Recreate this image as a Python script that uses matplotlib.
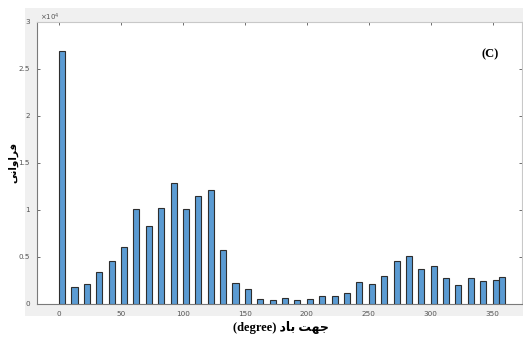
import matplotlib
matplotlib.use("Agg")
import matplotlib.pyplot as plt
from matplotlib.patches import Rectangle

# Wind direction bins (degrees) and observation counts
directions = [2.5, 12.5, 22.5, 32.5, 42.5, 52.5, 62.5, 72.5, 82.5, 92.5,
              102.5, 112.5, 122.5, 132.5, 142.5, 152.5, 162.5, 172.5, 182.5, 192.5,
              202.5, 212.5, 222.5, 232.5, 242.5, 252.5, 262.5, 272.5, 282.5, 292.5,
              302.5, 312.5, 322.5, 332.5, 342.5, 352.5, 358.0]
counts = [26900, 1740, 2060, 3330, 4500, 5990, 10040, 8230, 10210, 12840,
          10040, 11450, 12160, 5740, 2160, 1560, 530, 390, 600, 390,
          530, 780, 780, 1100, 2300, 2130, 2980, 4570, 5040, 3720,
          4040, 2730, 1950, 2730, 2450, 2550, 2840]

x_ticks = [0, 50, 100, 150, 200, 250, 300, 350]
y_ticks = [0, 5000, 10000, 15000, 20000, 25000, 30000]
y_tick_labels = ["0", "0.5", "1", "1.5", "2", "2.5", "3"]

# Persian labels written in visual order with presentation forms
x_label = "(degree) \uFEA9\uFE8E\uFE91 \uFE96\uFEEC\uFE9F"
y_label = "\uFEF0\uFEE7\uFE8D\uFEED\uFE8D\uFEAE\uFED3"
panel_tag = "(C)"

W, H = 523, 338
fig = plt.figure(figsize=(W / 100, H / 100), dpi=100)
fig.patch.set_facecolor("white")

# light grey figure panel behind the axes
fig.patches.append(Rectangle((25 / W, 22 / H), 498 / W, 308 / H,
                             transform=fig.transFigure, facecolor="#f0f0f0",
                             edgecolor="none", zorder=-5))

ax = fig.add_axes([37 / W, 34.3 / H, 485 / W, 281.7 / H], zorder=2)
ax.set_facecolor("white")

ax.bar(directions, counts, width=4.9, color="#5b9bd3", edgecolor="#2e2e2e",
       linewidth=0.8, zorder=3)

ax.set_xlim(-17.8, 373.8)
ax.set_ylim(0, 30000)
ax.set_xticks(x_ticks)
ax.set_xticklabels([str(t) for t in x_ticks])
ax.set_yticks(y_ticks)
ax.set_yticklabels(y_tick_labels)

ax.tick_params(axis="both", which="both", direction="in", length=2.5,
               width=0.6, color="#555555", labelsize=5.2, labelcolor="#555555",
               top=True, right=True, pad=5)

for side in ["left", "bottom"]:
    ax.spines[side].set_color("#7a7a7a")
    ax.spines[side].set_linewidth(0.8)
for side in ["top", "right"]:
    ax.spines[side].set_color("#c8c8c8")
    ax.spines[side].set_linewidth(0.8)

fig.text(281 / W, 1 - 327 / H, x_label, family=["Liberation Serif", "DejaVu Sans"],
         fontweight="bold", fontsize=9, ha="center", va="center", color="black")
fig.text(13 / W, 1 - 162 / H, y_label, family=["DejaVu Sans"], fontweight="bold",
         fontsize=7.5, rotation=90, ha="center", va="center", color="black")

ax.text(0.934, 0.885, panel_tag, transform=ax.transAxes, ha="center",
        va="center", family="Liberation Serif", fontweight="bold", fontsize=9)

fig.text(40 / W, 1 - 17 / H, r"$\times10^{4}$", fontsize=5,
         color="#555555", ha="left", va="center")

fig.savefig("out.png", dpi=100)
